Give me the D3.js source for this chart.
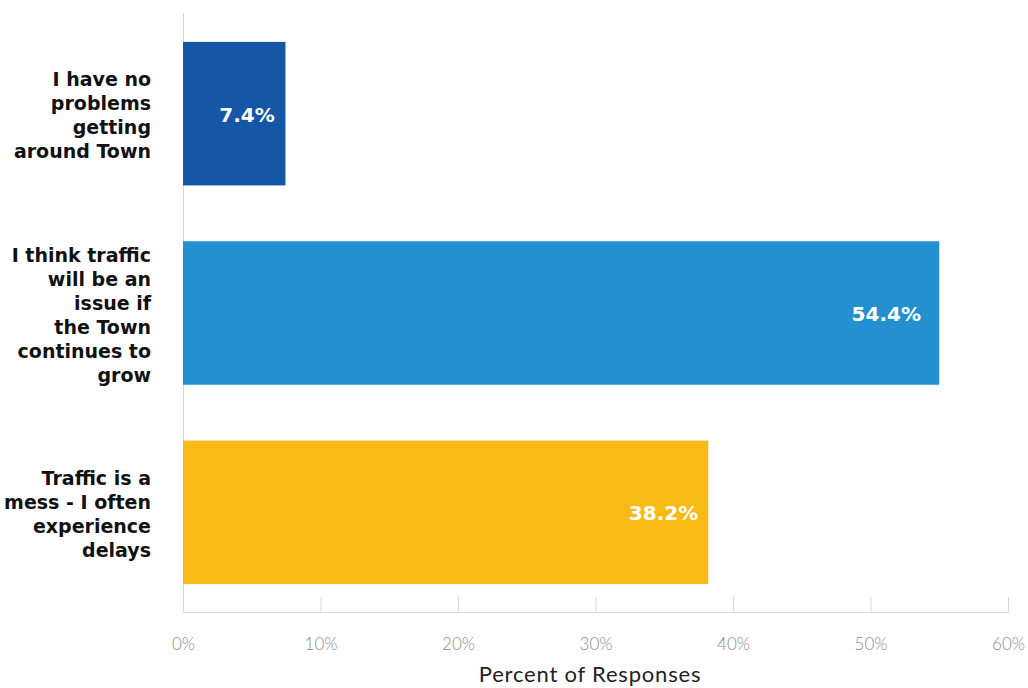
<!DOCTYPE html>
<html><head><meta charset="utf-8">
<script src="https://cdn.jsdelivr.net/npm/d3@7"></script>
<style>body{margin:0;background:#fff;}</style>
</head><body>
<svg id="c" width="1028" height="688"></svg>
<script>
const categories = [
  ["I have no","problems","getting","around Town"],
  ["I think traffic","will be an","issue if","the Town","continues to","grow"],
  ["Traffic is a","mess - I often","experience","delays"]
];
const values = [7.45, 55.0, 38.2];
const labelValues = [7.4, 54.4, 38.2];
const colors = ["#1656A6", "#2391D1", "#F8BB16"];
const ticks = [0, 10, 20, 30, 40, 50, 60];

const svg = d3.select("#c");
const x = d3.scaleLinear().domain([0, 60]).range([183, 1008]);
const y = d3.scaleBand().domain(d3.range(categories.length)).range([14, 612]).paddingInner(0.28).paddingOuter(0.14);

// vertical axis line
svg.append("line").attr("x1", 183.5).attr("x2", 183.5).attr("y1", 13).attr("y2", 612)
  .attr("stroke", "#d9d9d9").attr("stroke-width", 1);

// bottom axis
const ax = svg.append("g").attr("transform", "translate(0,612)")
  .call(d3.axisBottom(x).tickValues(ticks).tickSize(-15).tickFormat(d => d + "%").tickPadding(26));
ax.select(".domain").attr("stroke", "#d9d9d9");
ax.selectAll(".tick line").attr("stroke", "#d9d9d9");
ax.selectAll(".tick text").attr("fill", "#8c8c8c").attr("font-family", "Lato, 'Open Sans', sans-serif")
  .attr("font-size", 17).attr("font-weight", 300);

svg.append("text").attr("x", 590).attr("y", 682).attr("text-anchor", "middle")
  .attr("font-family", "Lato, 'Open Sans', sans-serif").attr("font-size", 22).attr("fill", "#222")
  .attr("letter-spacing", 0.8)
  .text("Percent of Responses");

// bars
svg.selectAll("rect.bar").data(values).join("rect").attr("class", "bar")
  .attr("x", x(0)).attr("y", (d, i) => y(i)).attr("width", d => x(d) - x(0)).attr("height", y.bandwidth())
  .attr("fill", (d, i) => colors[i]);

// value labels
svg.selectAll("text.val").data(labelValues).join("text").attr("class", "val")
  .attr("x", d => x(d) - 10).attr("y", (d, i) => y(i) + y.bandwidth() / 2 + 1).attr("dy", "0.35em")
  .attr("text-anchor", "end").attr("fill", "#fff").attr("font-weight", "bold")
  .attr("font-family", "'DejaVu Sans', sans-serif").attr("font-size", 20)
  .text((d, i) => labelValues[i].toFixed(1) + "%");

// category labels
const lh = 24;
categories.forEach((lines, i) => {
  const cy = y(i) + y.bandwidth() / 2 + 2;
  const t = svg.append("text").attr("text-anchor", "end").attr("font-weight", "bold")
    .attr("font-family", "'DejaVu Sans', sans-serif").attr("font-size", 19).attr("fill", "#111");
  lines.forEach((ln, j) => {
    t.append("tspan").attr("x", 151).attr("y", cy + (j - (lines.length - 1) / 2) * lh).attr("dy", "0.35em").text(ln);
  });
});
</script>
</body></html>
